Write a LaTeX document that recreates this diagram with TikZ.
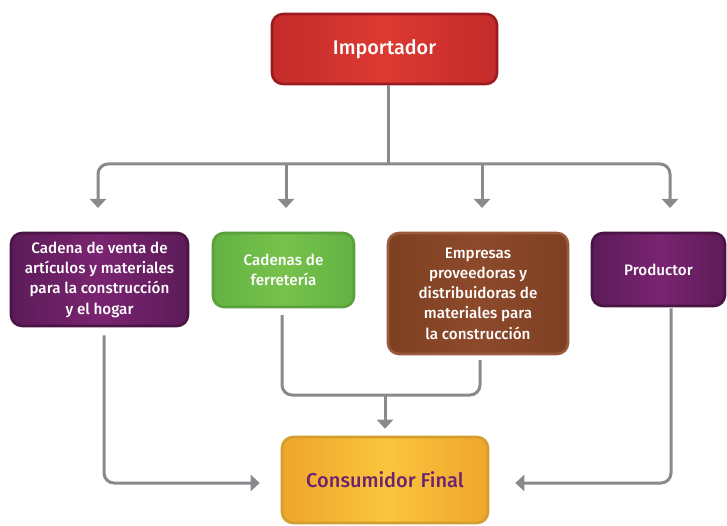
\documentclass[tikz,border=0pt]{standalone}
\usepackage{fontspec}
\setmainfont{Fira Sans}[UprightFont={* Medium},BoldFont={* SemiBold}]
\usetikzlibrary{arrows.meta,calc}
\definecolor{linegray}{HTML}{8A8A8E}
\definecolor{redL}{HTML}{C42B2A}\definecolor{redM}{HTML}{DC3A32}\definecolor{redB}{HTML}{9B1B20}
\definecolor{purL}{HTML}{5C1B58}\definecolor{purM}{HTML}{7A2471}\definecolor{purB}{HTML}{4A1445}
\definecolor{grnL}{HTML}{62B243}\definecolor{grnM}{HTML}{78C24C}\definecolor{grnB}{HTML}{5AA03C}
\definecolor{brnL}{HTML}{7E3F22}\definecolor{brnM}{HTML}{8D4A2B}\definecolor{brnB}{HTML}{9C5A3C}
\definecolor{ylwL}{HTML}{EFA52C}\definecolor{ylwM}{HTML}{FAC53D}\definecolor{ylwB}{HTML}{D39E2E}
\definecolor{txtpur}{HTML}{6E2370}
\begin{document}
\begin{tikzpicture}[x=1pt,y=-1pt,
  box/.style={draw, line width=2.6pt, rounded corners=11pt, text=white, align=center,
    inner sep=0pt, font=\fontsize{15.2}{20.3}\selectfont},
  redbox/.style={box, draw=redB, left color=redL, right color=redL, middle color=redM},
  purbox/.style={box, draw=purB, left color=purL, right color=purL, middle color=purM},
  grnbox/.style={box, draw=grnB, left color=grnL, right color=grnL, middle color=grnM},
  brnbox/.style={box, draw=brnB, left color=brnL, right color=brnL, middle color=brnM},
  ylwbox/.style={box, draw=ylwB, left color=ylwL, right color=ylwL, middle color=ylwM},
  conn/.style={draw=linegray, line width=3pt, rounded corners=10pt},
  arr/.style={conn, -{Triangle[width=16pt,length=9pt]}},
  darr/.style={conn, {Triangle[width=16pt,length=9pt]}-{Triangle[width=16pt,length=9pt]}}
]
\useasboundingbox (0,0) rectangle (727,526);

\node[redbox, minimum width=225pt, minimum height=70pt, font=\fontsize{19.8}{22}\selectfont] (imp) at (384.5,49) {Importador};

\node[purbox, minimum width=177pt, minimum height=93pt] (b1) at (99.5,279.5)
  {Cadena de venta de\\artículos y materiales\\para la construcción\\y el hogar};
\node[grnbox, minimum width=141pt, minimum height=74pt] (b2) at (283.5,270)
  {\raisebox{5pt}{\parbox{130pt}{\centering Cadenas de\\ferretería}}};
\node[brnbox, minimum width=180pt, minimum height=121pt] (b3) at (478,293.5)
  {Empresas\\proveedoras y\\distribuidoras de\\materiales para\\la construcción};
\node[purbox, minimum width=133pt, minimum height=73pt] (b4) at (658.5,269.5) {Productor};

\node[ylwbox, minimum width=206pt, minimum height=86pt, text=txtpur, font=\fontsize{20}{22}\selectfont] (cons) at (385,480) {Consumidor Final};

% top distribution
\coordinate (hub) at ($(imp.south)+(3.5,80)$);
\draw[conn] (imp.south -| hub) -- (hub);
\coordinate (t1) at (98,208);
\coordinate (t2) at (286,208);
\coordinate (t3) at (482,208);
\coordinate (t4) at (670,208);
\draw[darr] (t1) -- (98,164) -- (670,164) -- (t4);
\draw[arr] (286,164) -- (t2);
\draw[arr] (482,164) -- (t3);

% bottom
\coordinate (s1) at ($(b1.south)+(4.5,8)$);
\coordinate (e1) at ($(cons.west)+(-21,3)$);
\draw[arr] (s1) |- (e1);

\coordinate (s2) at (282,315);
\coordinate (s3) at (480,360);
\draw[conn] (s2) -- (282,395) -- (480,395) -- (s3);
\coordinate (m23) at (385,395);
\coordinate (e23) at ($(cons.north)+(0,-7)$);
\draw[arr] (m23) -- (e23);

\coordinate (s4) at ($(b4.south)+(12.5,1)$);
\coordinate (e4) at ($(cons.east)+(26,3)$);
\draw[arr] (s4) |- (e4);
\end{tikzpicture}
\end{document}
